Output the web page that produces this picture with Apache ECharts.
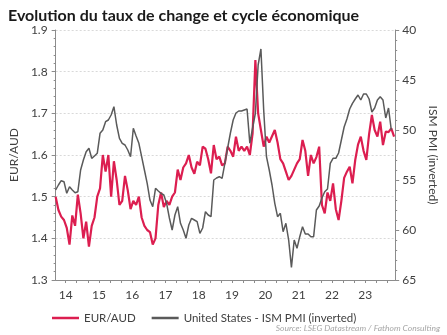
<!DOCTYPE html>
<html><head><meta charset="utf-8">
<script src="https://cdn.jsdelivr.net/npm/echarts@6/dist/echarts.min.js"></script>
<style>html,body{margin:0;padding:0;background:#fff}#c{width:447px;height:335px}</style>
</head><body><div id="c"></div>
<script>
// first observation ~ March 2014, monthly observations
const startYear = 2014.2;
const yearLabels = ['14','15','16','17','18','19','20','21','22','23'];
const labelYears = [2014.5,2015.5,2016.5,2017.5,2018.5,2019.5,2020.5,2021.5,2022.5,2023.5];

const eurAud = [
1.50,1.468,1.452,1.444,1.425,1.385,1.455,1.43,1.505,1.46,
1.40,1.44,1.38,1.43,1.45,1.50,1.52,1.60,1.56,1.60,
1.50,1.585,1.54,1.48,1.49,1.55,1.515,1.47,1.49,1.48,
1.50,1.45,1.43,1.42,1.415,1.385,1.40,1.48,1.51,1.475,
1.49,1.48,1.50,1.51,1.565,1.54,1.57,1.58,1.60,1.57,
1.555,1.584,1.575,1.62,1.615,1.59,1.556,1.624,1.59,1.596,
1.575,1.58,1.62,1.61,1.596,1.644,1.61,1.62,1.61,1.62,
1.60,1.652,1.828,1.70,1.66,1.62,1.644,1.63,1.645,1.66,
1.63,1.59,1.58,1.56,1.54,1.55,1.565,1.58,1.59,1.636,
1.61,1.55,1.60,1.58,1.595,1.62,1.48,1.46,1.51,1.49,
1.532,1.47,1.444,1.49,1.545,1.56,1.572,1.532,1.588,1.625,
1.644,1.61,1.588,1.65,1.696,1.66,1.644,1.68,1.624,1.656,
1.655,1.664,1.644
];

const ismPmi = [
56.0,55.5,55.07,55.17,56.33,55.67,56.0,56.27,56.17,54.0,
53.0,52.17,51.83,52.83,52.6,52.33,50.33,50.0,49.17,49.0,
48.5,47.67,49.5,50.83,51.33,51.5,52.0,52.67,49.83,50.6,
51.33,52.67,54.0,55.33,57.0,57.67,55.83,56.1,56.33,56.5,
57.33,58.8,60.0,58.5,57.67,59.33,60.0,60.83,59.5,58.83,
59.0,59.17,60.33,59.8,58.17,58.5,58.67,55.0,54.8,54.67,
54.83,53.33,51.8,50.3,49.0,48.3,48.1,48.1,48.0,47.9,
51.33,49.8,48.33,43.5,41.9,48.0,52.67,54.0,55.5,57.33,
58.67,58.33,60.17,59.33,61.0,63.73,61.0,61.83,60.67,59.67,
60.4,60.4,60.67,60.67,58.0,57.6,56.8,56.17,55.9,53.33,
52.83,52.83,52.3,51.0,49.7,48.9,47.9,47.33,46.9,46.5,
47.0,46.4,46.4,46.9,48.2,47.8,47.0,46.67,47.0,48.8,
47.8,50.0
];

const toPairs = arr => arr.map((v, i) => [startYear + i / 12, v]);
const tickYears = [];
for (let k = 0; k < 30; k++) tickYears.push(2014.5 + k / 3);

const FONT = 'Lato';
const chart = echarts.init(document.getElementById('c'), null, {renderer: 'canvas'});
chart.setOption({
  animation: false,
  textStyle: {fontFamily: FONT},
  title: {
    text: 'Evolution du taux de change et cycle économique',
    left: 3, top: 3,
    textStyle: {fontFamily: FONT, fontWeight: 'bold', fontSize: 16, color: '#1a1a1a'}
  },
  grid: {left: 43, right: 41, top: 30, bottom: 55, containLabel: false},
  legend: {
    left: 47, top: 307,
    icon: 'rect',
    itemWidth: 27, itemHeight: 2.5, itemGap: 16,
    textStyle: {fontFamily: FONT, fontSize: 11.5, color: '#404040'},
    data: ['EUR/AUD', 'United States - ISM PMI (inverted)']
  },
  xAxis: {
    type: 'value', min: startYear, max: 2024.4,
    axisLine: {lineStyle: {color: '#8c8c8c', width: 1}},
    axisTick: {show: true, length: 3, customValues: tickYears, lineStyle: {color: '#8c8c8c'}},
    axisLabel: {
      customValues: labelYears, margin: 9,
      fontFamily: FONT, fontSize: 12, color: '#404040',
      formatter: v => yearLabels[labelYears.findIndex(y => Math.abs(y - v) < 0.01)]
    },
    splitLine: {show: false}
  },
  yAxis: [{
    type: 'value', min: 1.3, max: 1.9, interval: 0.1,
    name: 'EUR/AUD', nameLocation: 'middle', nameGap: 30, nameRotate: 90,
    nameTextStyle: {fontFamily: FONT, fontSize: 12, color: '#404040'},
    axisLine: {show: true, lineStyle: {color: '#8c8c8c'}},
    axisTick: {show: true, length: 4, lineStyle: {color: '#8c8c8c'}},
    minorTick: {show: true, splitNumber: 5, length: 2, lineStyle: {color: '#8c8c8c'}},
    axisLabel: {margin: 8, fontFamily: FONT, fontSize: 12, color: '#404040', formatter: v => v.toFixed(1)},
    splitLine: {show: true, lineStyle: {color: '#d9d9d9', type: [2, 2], width: 1}}
  }, {
    type: 'value', min: 40, max: 65, interval: 5, inverse: true,
    name: 'ISM PMI (inverted)', nameLocation: 'middle', nameGap: 29, nameRotate: -90,
    nameTextStyle: {fontFamily: FONT, fontSize: 12, color: '#404040'},
    axisLine: {show: true, lineStyle: {color: '#8c8c8c'}},
    axisTick: {show: true, length: 4, lineStyle: {color: '#8c8c8c'}},
    minorTick: {show: true, splitNumber: 5, length: 2, lineStyle: {color: '#8c8c8c'}},
    axisLabel: {margin: 7, fontFamily: FONT, fontSize: 12, color: '#404040'},
    splitLine: {show: false}
  }],
  series: [{
    name: 'EUR/AUD', type: 'line', yAxisIndex: 0,
    data: toPairs(eurAud), showSymbol: false, symbol: 'none',
    lineStyle: {color: '#dc1e50', width: 2.2}, itemStyle: {color: '#dc1e50'}
  }, {
    name: 'United States - ISM PMI (inverted)', type: 'line', yAxisIndex: 1,
    data: toPairs(ismPmi), showSymbol: false, symbol: 'none',
    lineStyle: {color: '#5a5a5a', width: 1.5}, itemStyle: {color: '#5a5a5a'}
  }],
  graphic: [{
    type: 'text', right: 7, top: 324,
    style: {text: 'Source: LSEG Datastream / Fathom Consulting', fontFamily: FONT,
      fontSize: 8.5, fontStyle: 'italic', fill: '#a6a6a6'}
  }]
});
</script>
</body></html>
